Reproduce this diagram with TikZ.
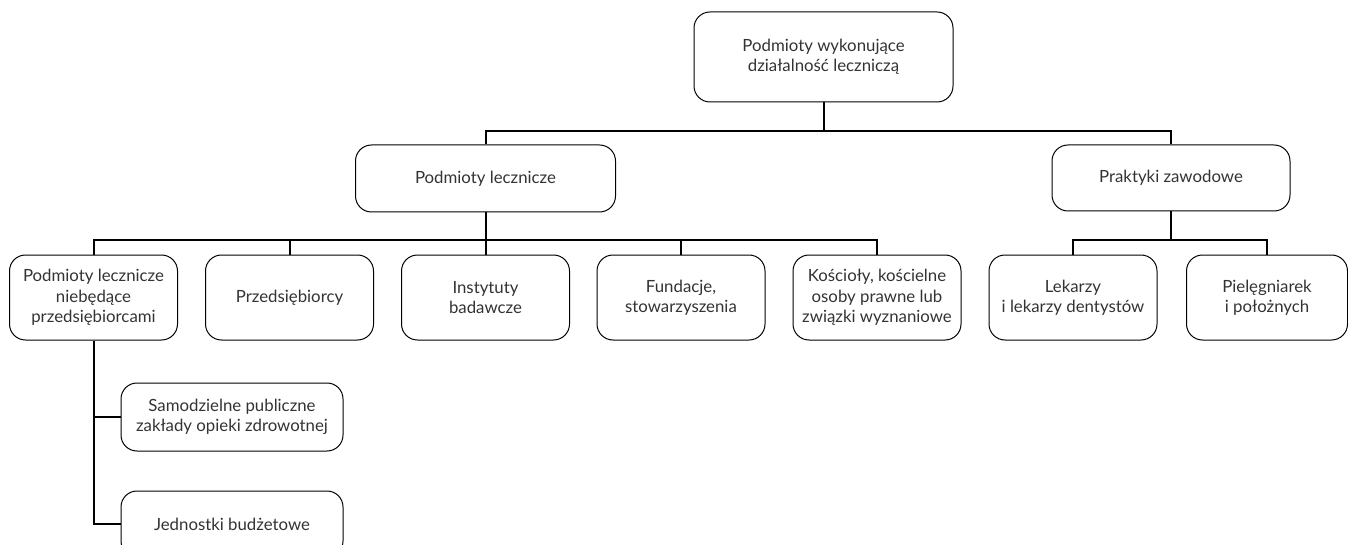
\documentclass[tikz,border=0pt]{standalone}
\usepackage{fontspec}
\setmainfont{Lato}
\usepackage{tikz}
\usetikzlibrary{positioning}

\tikzset{
  box/.style={draw, line width=0.5pt, rounded corners=8pt, align=center, inner sep=0pt,
    font=\fontsize{8.4}{10.2}\selectfont, text=black!80},
  conn/.style={line width=1pt}
}

\begin{document}
\begin{tikzpicture}[x=0.5pt, y=-0.5pt]
				\useasboundingbox (0,0) rectangle (1348,545);
				% top level
				\node[box, minimum width=129.5pt, minimum height=45pt] (pwdl) at (823.5,57) {Podmioty wykonujące\\działalność leczniczą};
				
				% second level
				\node[box, minimum width=130pt, minimum height=33.5pt] (plecz) at (485.5,178.5) {Podmioty lecznicze};
				\node[box, minimum width=119pt, minimum height=33pt] (pzaw) at (1171,178) {Praktyki zawodowe};
				
				% third level
				\node[box, minimum width=84pt, minimum height=42.5pt] (nieb) at (93.5,297.5) {Podmioty lecznicze\\niebędące\\przedsiębiorcami};
				\node[box, minimum width=84pt, minimum height=42.5pt] (przed) at (289.5,297.5) {Przedsiębiorcy};
				\node[box, minimum width=84pt, minimum height=42.5pt] (inst) at (485.5,297.5) {Instytuty\\badawcze};
				\node[box, minimum width=84pt, minimum height=42.5pt] (fund) at (681,297.5) {Fundacje,\\stowarzyszenia};
				\node[box, minimum width=84pt, minimum height=42.5pt] (kosc) at (877,297.5) {Kościoły, kościelne\\osoby prawne lub\\związki wyznaniowe};
				\node[box, minimum width=84pt, minimum height=42.5pt] (lek) at (1073,297.5) {Lekarzy\\i lekarzy dentystów};
				\node[box, minimum width=80.5pt, minimum height=42.5pt] (piel) at (1267,297.5) {Pielęgniarek\\i położnych};
				
				% fourth level
				\node[box, minimum width=111pt, minimum height=34pt] (spzoz) at (232,417) {Samodzielne publiczne\\zakłady opieki zdrowotnej};
				\node[box, minimum width=111pt, minimum height=33pt] (jbud) at (232,524) {Jednostki budżetowe};
				
				% Draw lines
				\draw[conn] (pwdl.south) -- ++(0,29) -| (plecz.north);
				\draw[conn] (pwdl.south) -- ++(0,29) -| (pzaw.north);
				\foreach \k in {nieb,przed,inst,fund,kosc}
				  \draw[conn] (plecz.south) -- ++(0,28) -| (\k.north);
				\draw[conn] (pzaw.south) -- ++(0,29) -| (lek.north);
				\draw[conn] (pzaw.south) -- ++(0,29) -| (piel.north);
				\draw[conn] (nieb.south) |- (spzoz.west);
				\draw[conn] (nieb.south) |- (jbud.west);
			\end{tikzpicture}
\end{document}
